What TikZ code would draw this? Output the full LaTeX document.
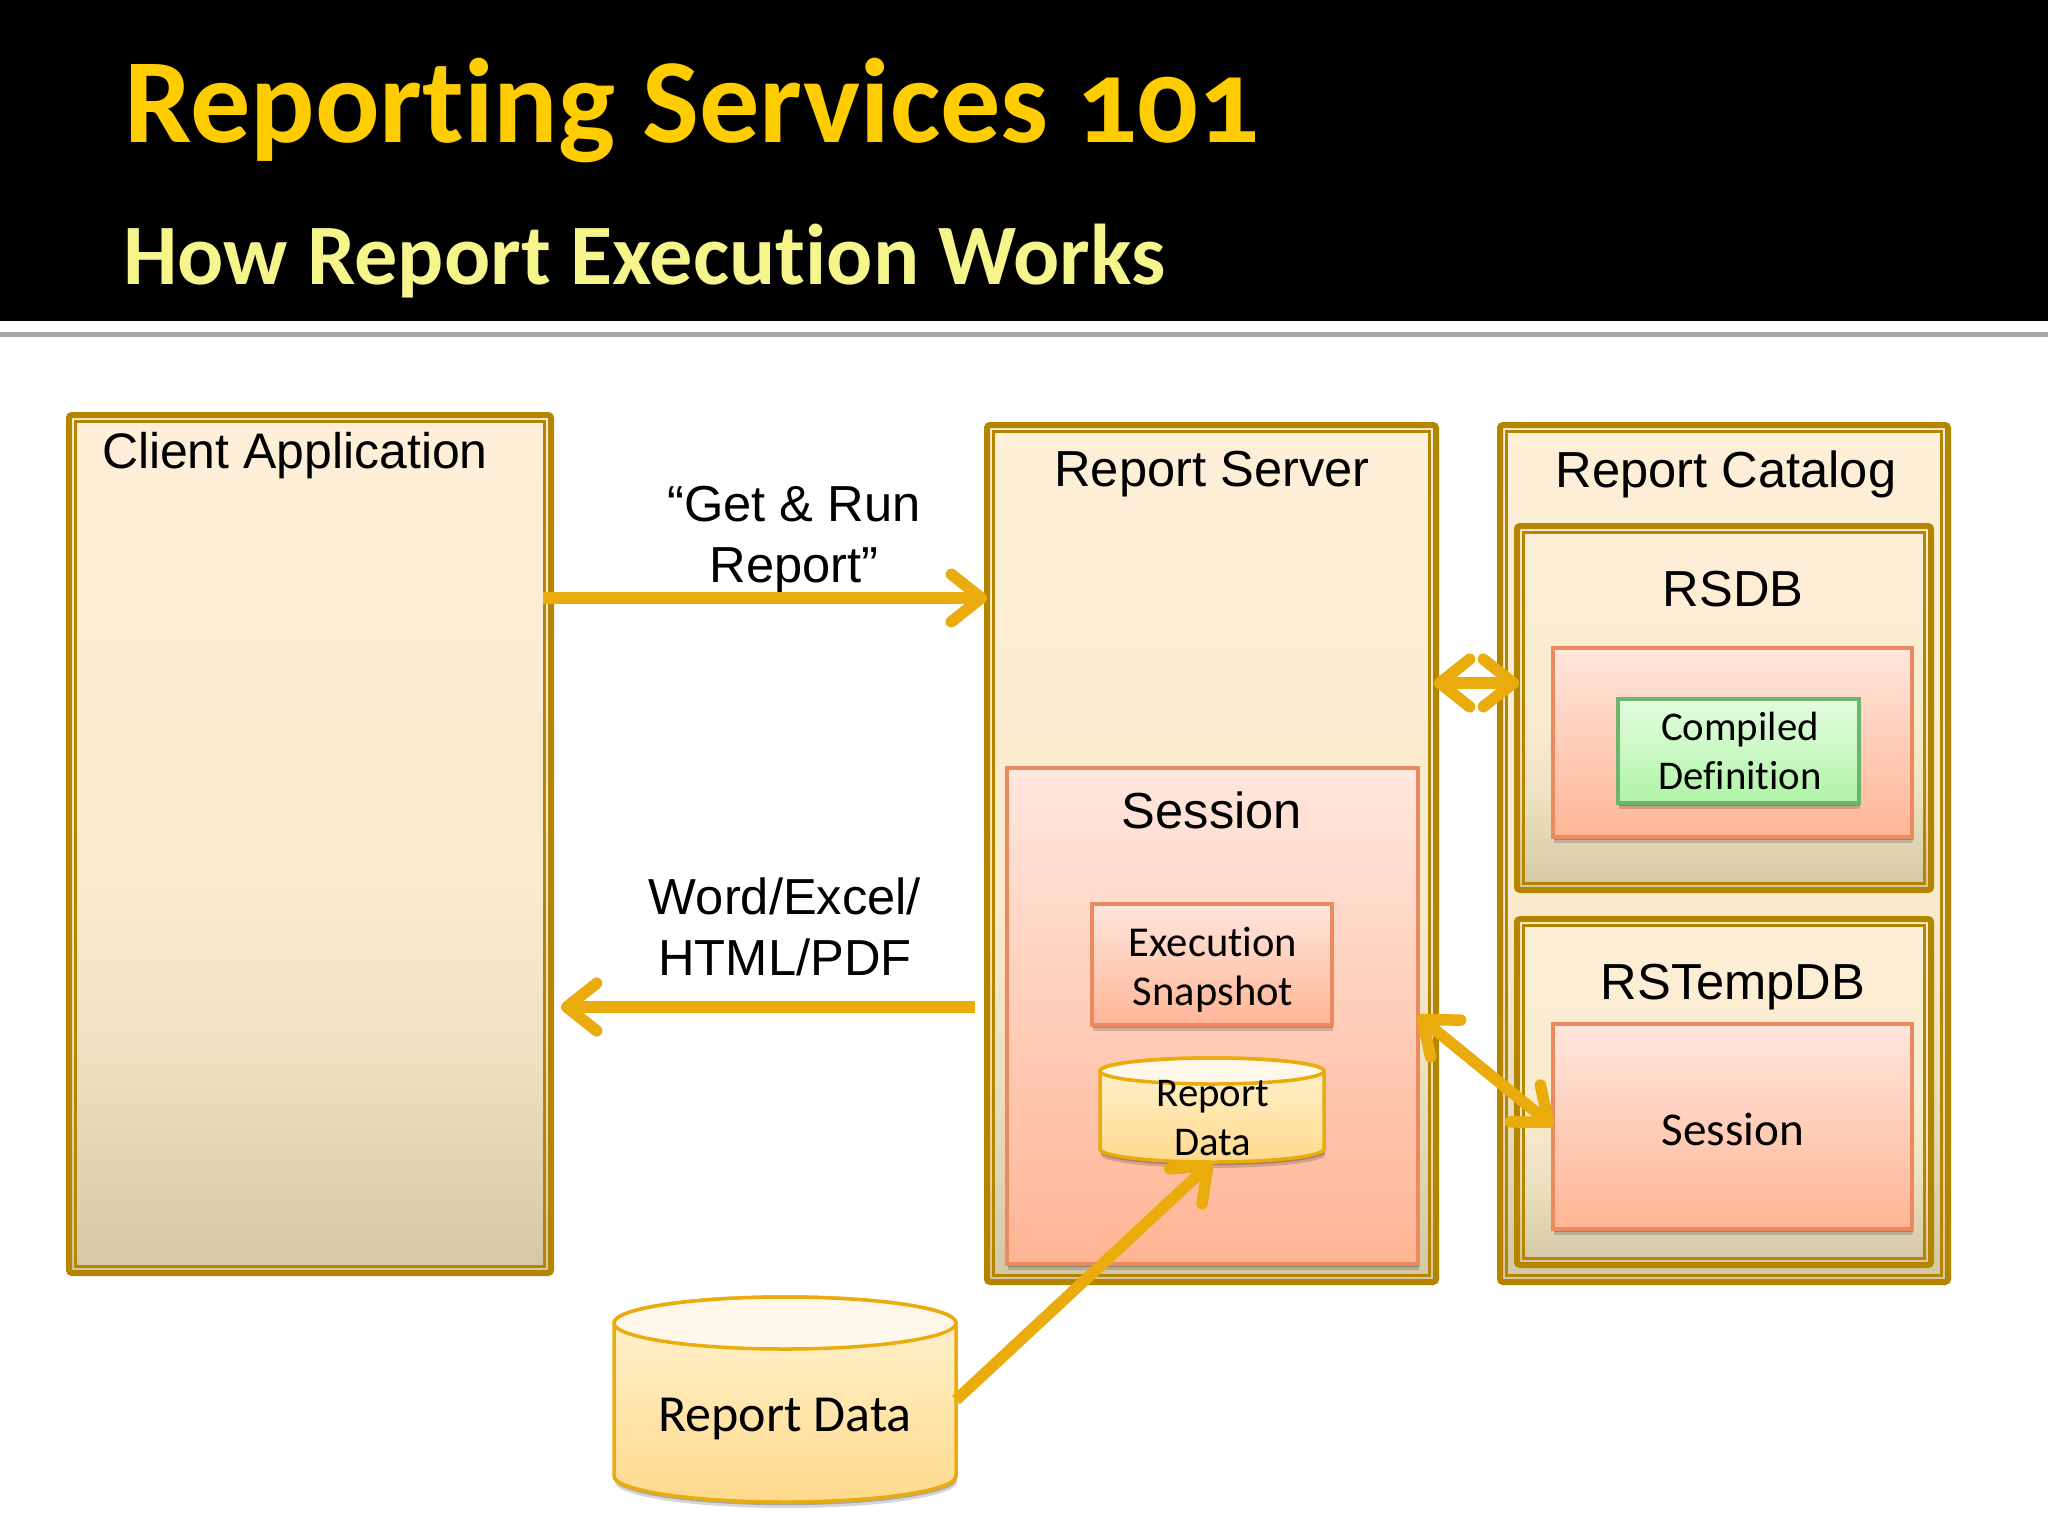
\documentclass[tikz,border=0pt]{standalone}
\usepackage{fontspec}
\setmainfont{Liberation Sans}
\newfontfamily\headfont{Carlito}[Numbers=OldStyle,Ligatures=CommonOff]
\usetikzlibrary{arrows.meta,shadows,calc}

\definecolor{gold}{HTML}{B58500}
\definecolor{flowc}{HTML}{E9AC0C}
\definecolor{salmonl}{HTML}{EA8A5F}
\definecolor{greenl}{HTML}{6DB56D}
\definecolor{salmontop}{HTML}{FFE6DD}
\definecolor{salmonbot}{HTML}{FFB595}
\definecolor{greentop}{HTML}{E4FBE0}
\definecolor{greenbot}{HTML}{AFF5A6}
\definecolor{dbtop}{HTML}{FFF3D2}
\definecolor{dbbot}{HTML}{FFDA8C}
\definecolor{dbcapc}{HTML}{FFF8EA}
\definecolor{titlec}{HTML}{FFCC00}
\definecolor{subc}{HTML}{F6F58C}

\pgfdeclareverticalshading{frameshade}{100bp}{
  rgb(0bp)=(.827,.780,.647);
  rgb(25bp)=(.827,.780,.647);
  rgb(37bp)=(.929,.878,.749);
  rgb(48bp)=(.980,.922,.804);
  rgb(75bp)=(.992,.937,.847);
  rgb(100bp)=(.992,.937,.847)}

\tikzset{
  soft/.style={drop shadow={shadow xshift=0.3pt,shadow yshift=-1.7pt,opacity=.16,fill=black},
    drop shadow={shadow xshift=0.2pt,shadow yshift=-0.9pt,opacity=.22,fill=black}},
  frame/.style={rectangle,draw=gold,line width=6*0.01cm,rounded corners=3*0.01cm,
    shading=frameshade,inner sep=0,outer sep=0},
  frameline/.style={draw=gold,line width=2.5*0.01cm},
  salmon/.style={rectangle,draw=salmonl,line width=3.5*0.01cm,top color=salmontop,
    bottom color=salmonbot,inner sep=0,outer sep=0,soft,align=center},
  leaf/.style={rectangle,draw=greenl,line width=3.5*0.01cm,top color=greentop,bottom color=greenbot,
    inner sep=0,outer sep=0,soft,align=center},
  dbbody/.style={draw=flowc,line width=3.5*0.01cm,top color=dbtop,bottom color=dbbot,soft},
  dbcap/.style={draw=flowc,line width=3.5*0.01cm,fill=dbcapc},
  plain/.style={rectangle,inner sep=0,outer sep=0,align=center},
  big/.style={plain,font=\fontsize{14.4pt}{17.35pt}\selectfont},
  small/.style={font=\headfont\fontsize{11.6pt}{13.9pt}\selectfont},
  flow/.style={draw=flowc,line width=11.5*0.01cm,
    -{Straight Barb[length=8.5pt,width=13.5pt,round]}},
  flowboth/.style={draw=flowc,line width=11.5*0.01cm,
    {Straight Barb[length=8.5pt,width=13.5pt,round]}-{Straight Barb[length=8.5pt,width=13.5pt,round]}}
}

% style, name, x1, y1, x2, y2, text (pixel coordinates, y going down)
\newcommand{\pbox}[7]{\node[#1,anchor=north west,minimum width=(#5-#3)*0.01cm,
  minimum height=(#6-#4)*0.01cm] (#2) at (#3,#4) {#7};}
% outer edge given, the line sits 3 px inside it
\newcommand{\gbox}[5]{\node[frame,anchor=north west,minimum width=(#4-#2-6)*0.01cm,
  minimum height=(#5-#3-6)*0.01cm] (#1) at (#2+3,#3+3) {};
  \draw[frameline] ([shift={(6.5,6.5)}]#1.north west) rectangle ([shift={(-6.5,-6.5)}]#1.south east);}
% name, x1, ytop, x2, ybottom, ry
\newcommand{\dbase}[6]{
  \path[dbbody] (#2,#3+#6) -- (#2,#5-#6) arc[start angle=180,end angle=0,x radius=(#4-#2)/2,y radius=#6]
    -- (#4,#3+#6) arc[start angle=0,end angle=-180,x radius=(#4-#2)/2,y radius=#6] -- cycle;
  \draw[dbcap] ({(#2+#4)/2},#3+#6) ellipse [x radius=(#4-#2)/2,y radius=#6];
  \node[plain,anchor=north west,minimum width=(#4-#2)*0.01cm,minimum height=(#5-#3)*0.01cm] (#1) at (#2,#3) {};}

\begin{document}
\begin{tikzpicture}[x=0.01cm,y=-0.01cm]
\useasboundingbox (0,0) rectangle (2048,1536);
\fill[white] (0,0) rectangle (2048,1536);

% header
\fill[black] (0,0) rectangle (2048,321);
\fill[black!35] (0,332) rectangle (2048,337);
\node[plain,anchor=base west,text=titlec,font=\headfont\bfseries\fontsize{34.2pt}{40pt}\selectfont]
  (title) at (124,142) {Reporting Services 101};
\node[plain,anchor=base west,text=subc,font=\headfont\bfseries\fontsize{24.5pt}{28pt}\selectfont]
  (subtitle) at (123,284) {How Report Execution Works};

% the three outer frames
\gbox{client}{66}{412}{554}{1276}
\gbox{server}{984}{422}{1439}{1285}
\gbox{catalog}{1497}{422}{1951}{1285}
\gbox{rsdb}{1514}{523}{1934}{893}
\gbox{rstemp}{1514}{916}{1934}{1268}

% inner boxes
\pbox{salmon}{session}{1007}{768}{1418}{1264}{}
\pbox{salmon}{snapshot}{1092}{904}{1332}{1025}{}
\pbox{salmon}{rsdbinner}{1553}{648}{1912}{837}{}
\pbox{leaf}{compiled}{1618}{699}{1859}{803}{}
\pbox{salmon}{tempsession}{1553}{1024}{1912}{1229}{}

\node[plain,small] (comptext) at (1740,751) {Compiled\\Definition};
\node[plain,font=\headfont\fontsize{12.1pt}{13.9pt}\selectfont] (snaptext) at (1213,970) {Execution\\Snapshot};
\node[plain,font=\headfont\fontsize{13.4pt}{16pt}\selectfont] (temptext) at (1733,1129) {Session};

% cylinders
\dbase{datasmall}{1100}{1058}{1324}{1162}{13}
\dbase{databig}{614}{1297}{956}{1502}{26}
\node[plain,small] (smalltext) at (1213,1118) {Report\\Data};
\node[plain,font=\headfont\fontsize{14.8pt}{17pt}\selectfont] (bigtext) at (785,1419) {Report Data};

% labels
\node[big,anchor=west,font=\fontsize{14.2pt}{17pt}\selectfont] (clientl) at (102,456) {Client Application};
\node[big] (serverl) at (1212,474) {Report Server};
\node[big] (catalogl) at (1726,474) {Report Catalog};
\node[big] (rsdbl) at (1733,589) {RSDB};
\node[big] (rstempl) at (1733,987) {RSTempDB};
\node[big] (sessionl) at (1212,810) {Session};
\node[big] (getrun) at (794,540) {“Get \& Run\\Report”};
\node[big] (export) at (785,927) {Word/Excel/\\HTML/PDF};

% connectors
\coordinate (y1) at (0,598);
\coordinate (y2) at (0,1007);
\coordinate (y3) at (0,683);
\coordinate (y4) at (0,1016);
\coordinate (y5) at (0,1126);
\coordinate (y6) at (0,1400);
\draw[flow,shorten <=-8*0.01cm] (client.east |- y1) -- (server.west |- y1);
\draw[flow,shorten <=12*0.01cm,shorten >=10*0.01cm] (server.west |- y2) -- (client.east |- y2);
\draw[flowboth,shorten <=-2*0.01cm,shorten >=-2*0.01cm] (server.east |- y3) -- (rsdb.west |- y3);
\draw[flowboth] (session.east |- y4) -- (tempsession.west |- y5);
\draw[flow] (databig.east |- y6) -- (datasmall.south);
\end{tikzpicture}
\end{document}
